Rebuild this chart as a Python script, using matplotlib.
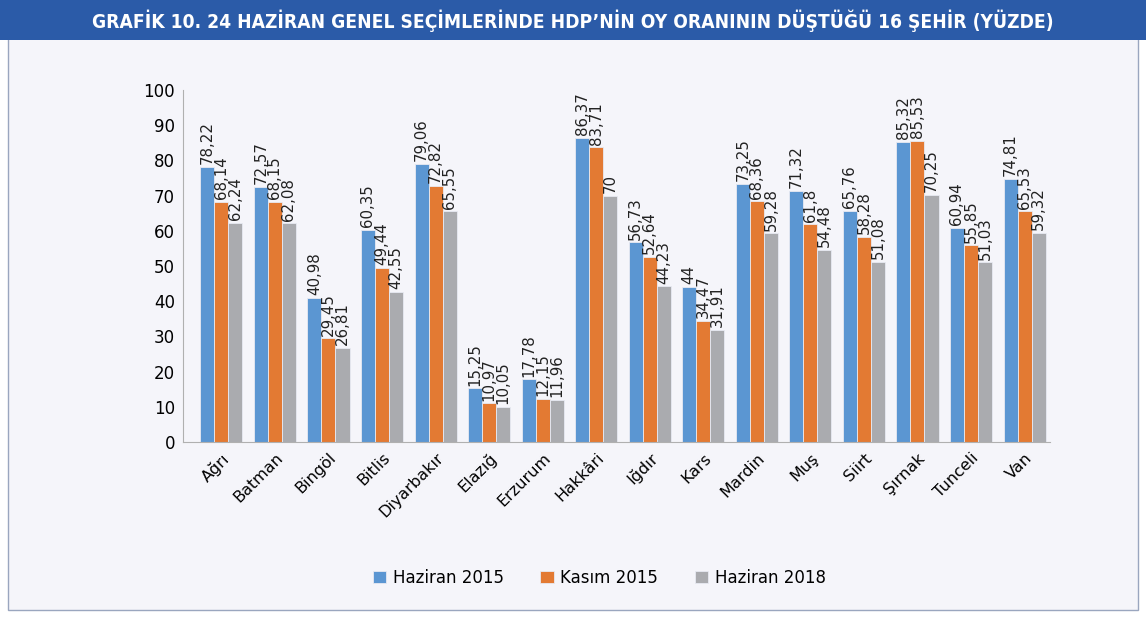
import matplotlib.pyplot as plt
import numpy as np
from matplotlib.patches import Rectangle

cities = ['Ağrı', 'Batman', 'Bingöl', 'Bitlis', 'Diyarbakır', 'Elazığ', 'Erzurum', 'Hakkâri',
          'Iğdır', 'Kars', 'Mardin', 'Muş', 'Siirt', 'Şırnak', 'Tunceli', 'Van']
haziran_2015 = [78.22, 72.57, 40.98, 60.35, 79.06, 15.25, 17.78, 86.37,
                56.73, 44, 73.25, 71.32, 65.76, 85.32, 60.94, 74.81]
kasim_2015 = [68.14, 68.15, 29.45, 49.44, 72.82, 10.97, 12.15, 83.71,
              52.64, 34.47, 68.36, 61.8, 58.28, 85.53, 55.85, 65.53]
haziran_2018 = [62.24, 62.08, 26.81, 42.55, 65.55, 10.05, 11.96, 70,
                44.23, 31.91, 59.28, 54.48, 51.08, 70.25, 51.03, 59.32]
series = ['Haziran 2015', 'Kasım 2015', 'Haziran 2018']
colors = ['#5b96d2', '#e37a33', '#aaabaf']

title = 'GRAFİK 10. 24 HAZİRAN GENEL SEÇİMLERİNDE HDP’NİN OY ORANININ DÜŞTÜĞÜ 16 ŞEHİR (YÜZDE)'

def fmt(v):
    s = ('%.2f' % v).rstrip('0').rstrip('.')
    return s.replace('.', ',')

fig = plt.figure(figsize=(11.46, 6.17), dpi=100)
fig.patch.set_facecolor('white')

# panel background and title bar
fig.patches.append(Rectangle((0.007, 0.012), 0.986, 0.93, transform=fig.transFigure,
                             facecolor='#f5f5fa', edgecolor='#9aa6bf', linewidth=1, zorder=-10))
fig.patches.append(Rectangle((0.0, 0.935), 1.0, 0.065, transform=fig.transFigure,
                             facecolor='#2b5ba8', edgecolor='none', zorder=-9))
fig.text(0.5, 0.967, title, color='white', fontsize=13.8, fontweight='bold',
         ha='center', va='center', fontstretch='condensed', family='DejaVu Sans')

ax = fig.add_axes([0.16, 0.2836, 0.756, 0.5705])
ax.set_facecolor('none')

x = np.arange(len(cities))
w = 0.262
for i, (vals, name) in enumerate(zip([haziran_2015, kasim_2015, haziran_2018], series)):
    pos = x + (i - 1) * w
    ax.bar(pos, vals, w, color=colors[i], edgecolor='#e8eaf2', linewidth=0.6, label=name)
    for p, v in zip(pos, vals):
        ax.annotate(fmt(v), (p, v), xytext=(0, 2), textcoords='offset points',
                    rotation=90, ha='center', va='bottom', fontsize=10.8, color='#222222')

ax.set_xlim(-0.71, len(cities) - 0.53)
ax.set_ylim(0, 100)
ax.set_yticks(range(0, 101, 10))
ax.set_xticks(x)
ax.set_xticklabels(cities, rotation=45, ha='right', rotation_mode='anchor', fontsize=11.5)
ax.tick_params(axis='y', labelsize=12, length=0, pad=6)
ax.tick_params(axis='x', length=0, pad=6)
for s in ['top', 'right']:
    ax.spines[s].set_visible(False)
ax.spines['left'].set_color('#b0b0b0')
ax.spines['bottom'].set_color('#b0b0b0')

ax.legend(loc='center', bbox_to_anchor=(0.48, -0.386), ncol=3, frameon=False,
          fontsize=12, handlelength=0.8, handleheight=0.8, columnspacing=2.2, handletextpad=0.4)

fig.savefig('out.png', dpi=100)
